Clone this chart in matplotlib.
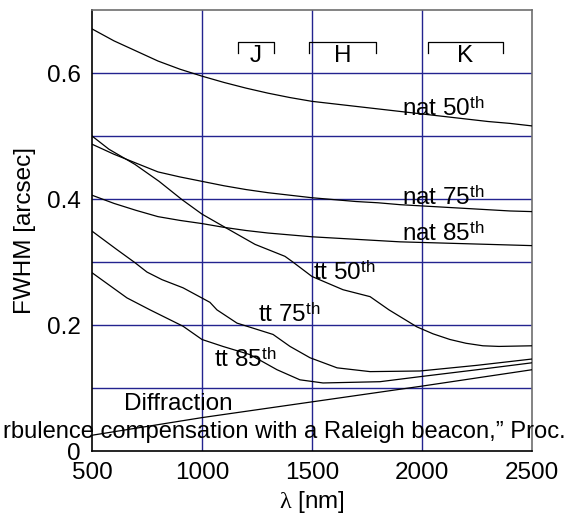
import matplotlib
matplotlib.use("Agg")
import matplotlib.pyplot as plt

plt.rcParams['font.family'] = ['Liberation Sans', 'DejaVu Sans']
plt.rcParams['mathtext.fontset'] = 'custom'
plt.rcParams['mathtext.rm'] = 'Liberation Serif'
plt.rcParams['mathtext.it'] = 'Liberation Serif'
plt.rcParams['mathtext.sf'] = 'Liberation Sans'

# natural seeing curves, common wavelength grid [nm]
lam = [500, 600, 700, 800, 900, 1000, 1100, 1200, 1300, 1400, 1500,
       1600, 1700, 1800, 1900, 2000, 2100, 2200, 2300, 2400, 2500]
nat50 = [0.670, 0.651, 0.635, 0.619, 0.606, 0.595, 0.585, 0.576, 0.568, 0.561, 0.555,
         0.551, 0.547, 0.543, 0.539, 0.535, 0.531, 0.527, 0.523, 0.520, 0.516]
nat75 = [0.487, 0.471, 0.457, 0.443, 0.435, 0.428, 0.421, 0.415, 0.410, 0.406, 0.402,
         0.399, 0.396, 0.394, 0.391, 0.389, 0.387, 0.385, 0.383, 0.381, 0.380]
nat85 = [0.406, 0.393, 0.382, 0.372, 0.366, 0.361, 0.355, 0.350, 0.346, 0.343, 0.340,
         0.338, 0.336, 0.334, 0.332, 0.331, 0.330, 0.329, 0.328, 0.327, 0.326]

# tip-tilt corrected curves
tt50_x = [500, 577, 695, 805, 909, 1000, 1105, 1241, 1377, 1409, 1500,
          1641, 1764, 1850, 1977, 2050, 2127, 2200, 2277, 2350, 2500]
tt50_y = [0.500, 0.479, 0.455, 0.428, 0.399, 0.376, 0.355, 0.328, 0.309, 0.301, 0.277,
          0.256, 0.245, 0.224, 0.197, 0.186, 0.177, 0.171, 0.167, 0.166, 0.167]
tt75_x = [500, 612, 695, 750, 818, 914, 1036, 1068, 1159, 1323, 1400,
          1491, 1614, 1764, 1991, 2250, 2500]
tt75_y = [0.349, 0.320, 0.299, 0.284, 0.272, 0.259, 0.236, 0.224, 0.203, 0.185, 0.166,
          0.148, 0.132, 0.126, 0.127, 0.136, 0.146]
tt85_x = [500, 659, 764, 914, 1000, 1095, 1218, 1341, 1445, 1550, 1809, 1991, 2250, 2500]
tt85_y = [0.283, 0.243, 0.224, 0.198, 0.177, 0.166, 0.153, 0.129, 0.113, 0.108,
          0.110, 0.118, 0.129, 0.140]

diff_x = [500, 1000, 1500, 2000, 2500]
diff_y = [0.025, 0.053, 0.078, 0.103, 0.129]

# curve labels: text, x, y (baseline left)
labels = [("nat 50", 1909, 0.532), ("nat 75", 1909, 0.390), ("nat 85", 1909, 0.334),
          ("tt 50", 1505, 0.272), ("tt 75", 1255, 0.205), ("tt 85", 1055, 0.134)]

# photometric bands
bands = ["J", "H", "K"]
band_lo = [1164, 1486, 2027]
band_hi = [1327, 1791, 2368]

caption = "rbulence compensation with a Raleigh beacon,\u201d Proc."

grid_c = "#23238f"
fs = 17.5

fig = plt.figure(figsize=(5.72, 5.16), dpi=100)
ax = fig.add_axes([92/572, 1-451/516, 440/572, 441/516])

for x, y in [(lam, nat50), (lam, nat75), (lam, nat85),
             (tt50_x, tt50_y), (tt75_x, tt75_y), (tt85_x, tt85_y), (diff_x, diff_y)]:
    ax.plot(x, y, color="k", lw=0.9, zorder=3)

for txt, x, y in labels:
    ax.text(x, y, txt + r"$^{\mathsf{th}}$", fontsize=fs, ha="left", va="baseline", zorder=4)
ax.text(645, 0.065, "Diffraction", fontsize=fs, ha="left", va="baseline", zorder=4)

for b, lo, hi in zip(bands, band_lo, band_hi):
    ax.plot([lo, lo, hi, hi], [0.631, 0.650, 0.650, 0.631], color="k", lw=0.9, zorder=3)
    ax.text((lo + hi) / 2, 0.617, b, fontsize=fs, ha="center", va="baseline")

ax.set_xlim(500, 2500)
ax.set_ylim(0, 0.7)
ax.set_xticks([500, 1000, 1500, 2000, 2500])
ax.set_yticks([0, 0.2, 0.4, 0.6])
ax.set_yticklabels(["0", "0.2", "0.4", "0.6"])
ax.set_yticks([0.1, 0.3, 0.5], minor=True)
ax.tick_params(which="both", length=0, labelsize=fs)
ax.tick_params(axis="y", pad=8)
ax.tick_params(axis="x", pad=8)
for v in [0.1, 0.2, 0.3, 0.4, 0.5, 0.6]:
    ax.axhline(v, color=grid_c, lw=1, zorder=1)
for v in [1000, 1500, 2000]:
    ax.axvline(v, color=grid_c, lw=1, zorder=1)

ax.spines["left"].set_color("k")
ax.spines["bottom"].set_color("k")
ax.spines["top"].set_color("#6e6e6e")
ax.spines["right"].set_color("#6e6e6e")
for s in ax.spines.values():
    s.set_linewidth(1.2)

ax.set_ylabel("FWHM [arcsec]", fontsize=fs)
ax.yaxis.set_label_coords(-0.128, 0.5)
ax.set_xlabel(r"$\mathrm{\lambda}$ [nm]", fontsize=fs)
ax.xaxis.set_label_coords(0.5, -0.086)

fig.text(566/572, 1-438/516, caption, fontsize=17.1, ha="right", va="baseline", zorder=10)

fig.savefig("out.png", dpi=100)
